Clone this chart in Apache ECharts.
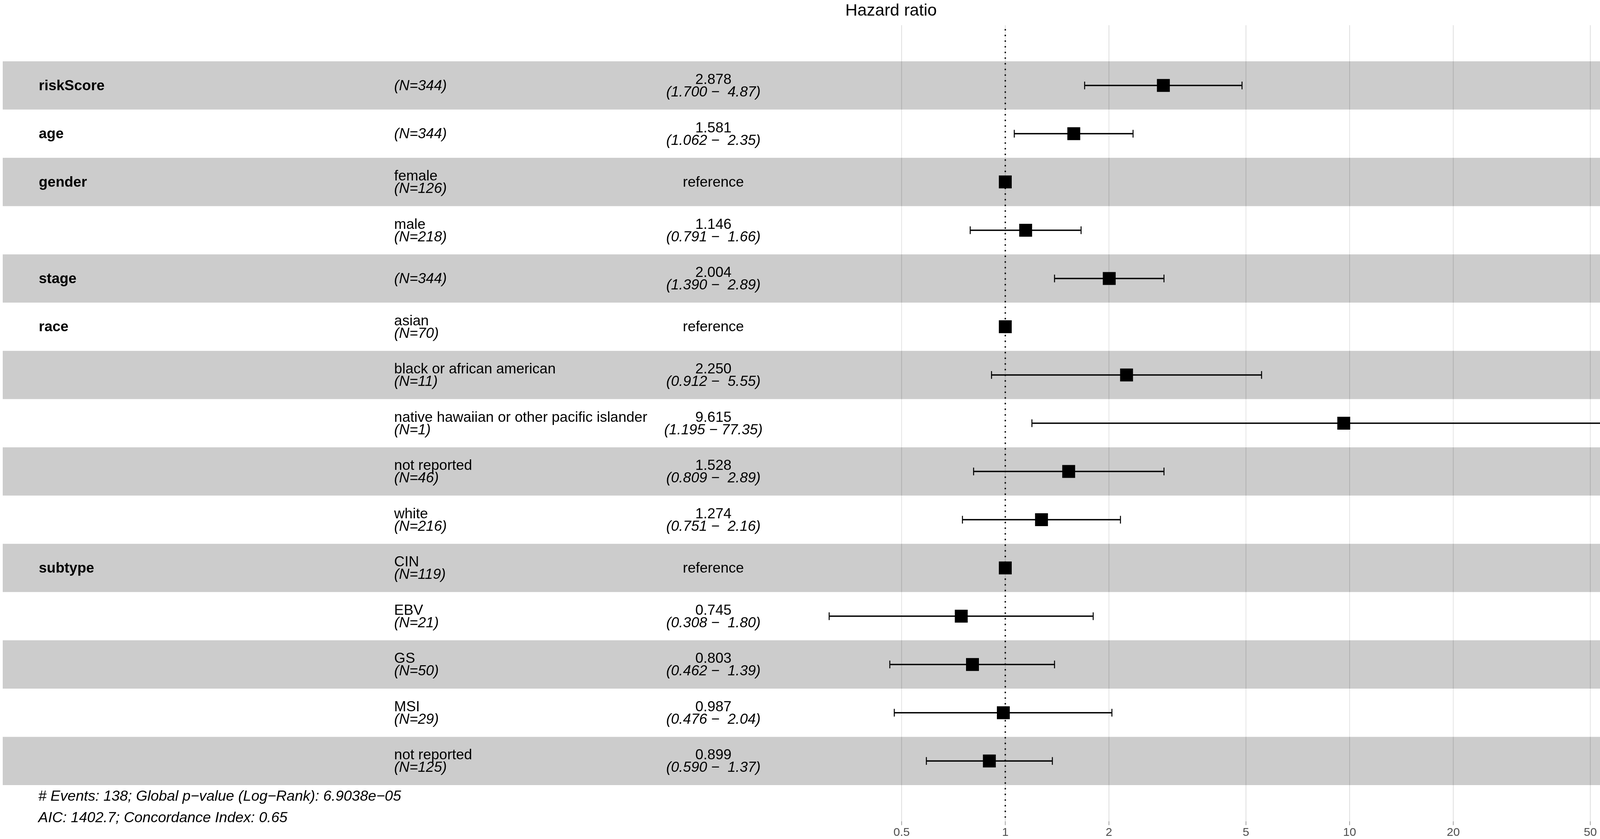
<!DOCTYPE html>
<html>
<head>
<meta charset="utf-8">
<title>Hazard ratio</title>
<script src="https://cdn.jsdelivr.net/npm/echarts@6/dist/echarts.min.js"></script>
<style>
html, body { margin: 0; padding: 0; background: #fff; }
#chart { width: 4562px; height: 2148px; }
</style>
</head>
<body>
<div id="chart"></div>
<script>
// one entry per row, top to bottom
var varNames = ['riskScore', 'age', 'gender', '', 'stage', 'race', '', '', '', '', 'subtype', '', '', '', ''];
var levels = ['', '', 'female', 'male', '', 'asian', 'black or african american',
    'native hawaiian or other pacific islander', 'not reported', 'white',
    'CIN', 'EBV', 'GS', 'MSI', 'not reported'];
var nCounts = [344, 344, 126, 218, 344, 70, 11, 1, 46, 216, 119, 21, 50, 29, 125];
var isReference = [false, false, true, false, false, true, false, false, false, false, true, false, false, false, false];
var hr = [2.878, 1.581, 1, 1.146, 2.004, 1, 2.250, 9.615, 1.528, 1.274, 1, 0.745, 0.803, 0.987, 0.899];
var ciLow = [1.700, 1.062, null, 0.791, 1.390, null, 0.912, 1.195, 0.809, 0.751, null, 0.308, 0.462, 0.476, 0.590];
var ciHigh = [4.87, 2.35, null, 1.66, 2.89, null, 5.55, 77.35, 2.89, 2.16, null, 1.80, 1.39, 2.04, 1.37];
var hrLabels = ['2.878', '1.581', '', '1.146', '2.004', '', '2.250', '9.615', '1.528', '1.274', '', '0.745', '0.803', '0.987', '0.899'];
var ciLabels = ['(1.700 \u2212  4.87)', '(1.062 \u2212  2.35)', '', '(0.791 \u2212  1.66)', '(1.390 \u2212  2.89)', '',
    '(0.912 \u2212  5.55)', '(1.195 \u2212 77.35)', '(0.809 \u2212  2.89)', '(0.751 \u2212  2.16)', '',
    '(0.308 \u2212  1.80)', '(0.462 \u2212  1.39)', '(0.476 \u2212  2.04)', '(0.590 \u2212  1.37)'];
var pValues = ['<0.001', '0.024', '', '0.4706', '<0.001', '', '0.0786', '0.0334', '0.1914', '0.3691', '', '0.513', '0.4355', '0.9714', '0.6208'];

var tickValues = [0.5, 1, 2, 5, 10, 20, 50, 100];
var tickLabels = ['0.5', '1', '2', '5', '10', '20', '50', '100'];
var footerLines = [
    '# Events: 138; Global p\u2212value (Log\u2212Rank): 6.9038e\u221205',
    'AIC: 1402.7; Concordance Index: 0.65'
];

var FONT = '"Liberation Sans", Arial, sans-serif';
var FS = 37;
// text columns sit on the same log scale as the hazard ratios
var colVar = 0.00156, colLevel = 0.0168, colEst = 0.142, colP = 83;
var xMin = 0.001226, xMax = 177.4;
var yMin = -1.25, yMax = 15.25;

var rows = hr.map(function (v, i) { return [1, i]; });

function txt(x, y, s, opt) {
    opt = opt || {};
    return {
        type: 'text', x: x, y: y,
        style: {
            text: s, fill: opt.color || '#000',
            fontFamily: FONT, fontSize: opt.size || FS,
            fontWeight: opt.weight || 'normal',
            fontStyle: opt.italic ? 'italic' : 'normal',
            align: opt.align || 'left', verticalAlign: 'middle'
        }
    };
}

function renderGrid(params, api) {
    var v = api.value(0);
    var top = api.coord([v, yMin]);
    var bot = api.coord([v, yMax]);
    return {
        type: 'group', children: [
            { type: 'line', shape: { x1: top[0], y1: top[1], x2: bot[0], y2: bot[1] }, style: { stroke: '#DEDEDE', lineWidth: 2 } },
            { type: 'line', shape: { x1: bot[0], y1: bot[1], x2: bot[0], y2: bot[1] + 10 }, style: { stroke: '#A0A0A0', lineWidth: 2 } },
            txt(bot[0], bot[1] + 29, tickLabels[params.dataIndex], { size: 30, align: 'center', color: '#4D4D4D' })
        ]
    };
}

function renderBand(params, api) {
    var i = api.value(1);
    var cs = params.coordSys;
    var y0 = api.coord([1, i - 0.5])[1];
    var y1 = api.coord([1, i + 0.5])[1];
    return {
        type: 'rect',
        shape: { x: cs.x, y: y0, width: cs.width, height: y1 - y0 },
        style: { fill: i % 2 === 0 ? 'rgba(0,0,0,0.2)' : 'rgba(255,255,255,0.2)' }
    };
}

function renderRefLine(params, api) {
    var top = api.coord([1, yMin]);
    var bot = api.coord([1, yMax]);
    return {
        type: 'line',
        shape: { x1: top[0], y1: top[1] + 10, x2: bot[0], y2: bot[1] },
        style: { stroke: '#000', lineWidth: 3.5, lineDash: [3.5, 11] }
    };
}

function renderErrorBar(params, api) {
    var lo = api.coord([api.value(0), api.value(1)]);
    var hi = api.coord([api.value(2), api.value(1)]);
    var h = api.size([0, 0.08])[1];
    var cap = { stroke: '#000', lineWidth: 2.5 };
    return {
        type: 'group', children: [
            { type: 'line', shape: { x1: lo[0], y1: lo[1], x2: hi[0], y2: hi[1] }, style: { stroke: '#000', lineWidth: 3.5 } },
            { type: 'line', shape: { x1: lo[0], y1: lo[1] - h, x2: lo[0], y2: lo[1] + h }, style: cap },
            { type: 'line', shape: { x1: hi[0], y1: hi[1] - h, x2: hi[0], y2: hi[1] + h }, style: cap }
        ]
    };
}

function renderText(params, api) {
    var i = api.value(1);
    var c = api.coord([1, i])[1];
    var kids = [];
    var xv = api.coord([colVar, i])[0];
    var xl = api.coord([colLevel, i])[0];
    var xe = api.coord([colEst, i])[0];
    var xp = api.coord([colP, i])[0];
    if (varNames[i]) kids.push(txt(xv, c + 1.5, varNames[i], { weight: 'bold' }));
    var nText = '(N=' + nCounts[i] + ')';
    if (levels[i]) {
        kids.push(txt(xl, c - 14, levels[i]));
        kids.push(txt(xl, c + 18, nText, { italic: true }));
    } else {
        kids.push(txt(xl, c + 1.5, nText, { italic: true }));
    }
    if (isReference[i]) {
        kids.push(txt(xe, c + 1.5, 'reference', { align: 'center' }));
    } else {
        kids.push(txt(xe, c - 14, hrLabels[i], { align: 'center' }));
        kids.push(txt(xe, c + 18, ciLabels[i], { align: 'center', italic: true }));
    }
    if (pValues[i]) kids.push(txt(xp, c + 1.5, pValues[i], { italic: true }));
    return { type: 'group', children: kids };
}

var barData = [];
hr.forEach(function (v, i) {
    if (ciLow[i] != null) barData.push([ciLow[i], i, ciHigh[i]]);
});

var chart = echarts.init(document.getElementById('chart'));
var option = {
    animation: false,
    backgroundColor: '#fff',
    title: {
        text: 'Hazard ratio',
        left: 'center',
        top: 2,
        textStyle: { fontFamily: FONT, fontSize: 43, fontWeight: 'normal', color: '#000' }
    },
    grid: { left: 7, right: 6, top: 64.4, bottom: 45.4 },
    xAxis: {
        type: 'log', logBase: 10, min: xMin, max: xMax, show: false
    },
    yAxis: {
        type: 'value', inverse: true, min: yMin, max: yMax, show: false
    },
    graphic: footerLines.map(function (s, k) {
        return {
            type: 'text', x: 98, y: 2040 + k * 55,
            style: {
                text: s, fill: '#000', fontFamily: FONT, fontSize: 37.5,
                fontStyle: 'italic', verticalAlign: 'middle'
            }
        };
    }),
    series: [
        { type: 'custom', z: 1, silent: true, renderItem: renderGrid,
          data: tickValues.map(function (v) { return [v, yMax]; }) },
        { type: 'custom', z: 2, silent: true, renderItem: renderBand, data: rows },
        { type: 'custom', z: 3, silent: true, renderItem: renderRefLine, data: [[1, 0]] },
        { type: 'custom', z: 4, silent: true, renderItem: renderErrorBar, data: barData },
        { type: 'scatter', z: 5, silent: true, symbol: 'rect', symbolSize: 33,
          itemStyle: { color: '#000', opacity: 1 },
          data: hr.map(function (v, i) { return [v, i]; }) },
        { type: 'custom', z: 6, silent: true, renderItem: renderText, data: rows }
    ]
};
chart.setOption(option);
</script>
</body>
</html>
